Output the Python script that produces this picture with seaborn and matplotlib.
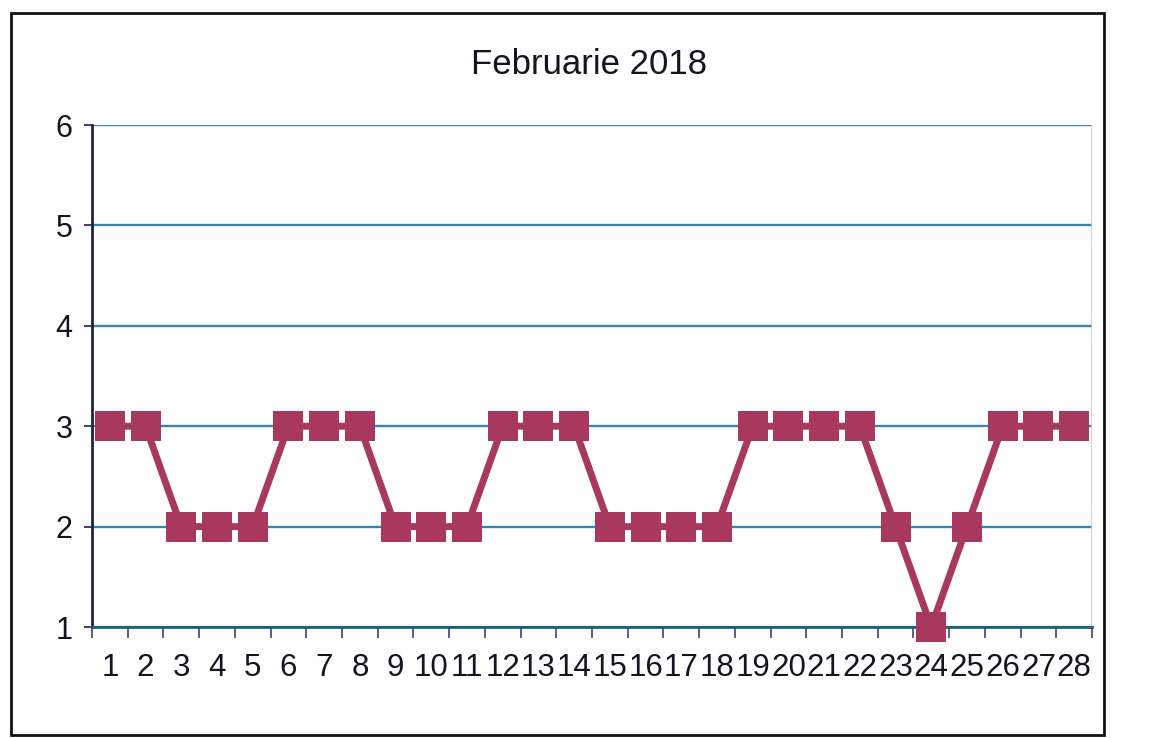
import matplotlib
matplotlib.use("Agg")
import matplotlib.pyplot as plt
import numpy as np
import pandas as pd
import seaborn as sns
from matplotlib.patches import Rectangle

# daily values, February 2018
days = list(range(1, 29))
values = [3, 3, 2, 2, 2, 3, 3, 3, 2, 2, 2, 3, 3, 3,
          2, 2, 2, 2, 3, 3, 3, 3, 2, 1, 2, 3, 3, 3]
y_ticks = [1, 2, 3, 4, 5, 6]
title = "Februarie 2018"

sns.set_theme(style="white")
plt.rcParams["font.family"] = ["Liberation Sans", "DejaVu Sans"]

df = pd.DataFrame({"zi": days, "valoare": values})

fig = plt.figure(figsize=(11.67, 7.38), dpi=100)
ax = fig.add_axes([0.0788, 0.1504, 0.8569, 0.6802])

# grid lines (blue, with a faint pink shadow like the scan)
for y in y_ticks[1:]:
    ax.axhline(y, color="#e8899f", lw=1.6, zorder=0.5)
ax.yaxis.grid(True, color="#2f86b8", lw=1.6)
ax.set_axisbelow(True)

sns.lineplot(data=df, x="zi", y="valoare", ax=ax, color="#a8385e",
             lw=5, marker="s", markersize=22, markeredgewidth=0,
             zorder=3, clip_on=False)

ax.set_xlim(0.5, 28.5)
ax.set_ylim(1, 6)
ax.set_yticks(y_ticks)
ax.set_yticklabels([str(v) for v in y_ticks], fontsize=22, color="#151520")
ax.tick_params(axis="y", length=6, width=1.2, color="#222244", pad=8, left=True)

# category ticks at boundaries, labels centred on each day
ax.set_xticks(np.arange(0.5, 29, 1))
ax.set_xticklabels([])
ax.set_xticks(days, minor=True)
ax.set_xticklabels([str(d) for d in days], minor=True, fontsize=22.5,
                   color="#151520")
ax.tick_params(axis="x", which="major", length=8, width=1.2,
               color="#444466", bottom=True, direction="out")
ax.tick_params(axis="x", which="minor", length=0, pad=19)

ax.set_xlabel("")
ax.set_ylabel("")
for side in ["top", "right"]:
    ax.spines[side].set_visible(False)
ax.spines["left"].set_color("#222244")
ax.spines["left"].set_linewidth(2)
ax.spines["bottom"].set_color("#1f5f7a")
ax.spines["bottom"].set_linewidth(2)
ax.axvline(28.5, color="#c8c8d8", lw=1.2)

fig.text(0.505, 0.912, title, ha="center", va="center", fontsize=25,
         color="#151520")

# outer chart border
fig.patches.append(Rectangle((0.009, 0.004), 0.937, 0.978, transform=fig.transFigure,
                             fill=False, edgecolor="#111111", lw=2))

fig.savefig("out.png", dpi=100)
